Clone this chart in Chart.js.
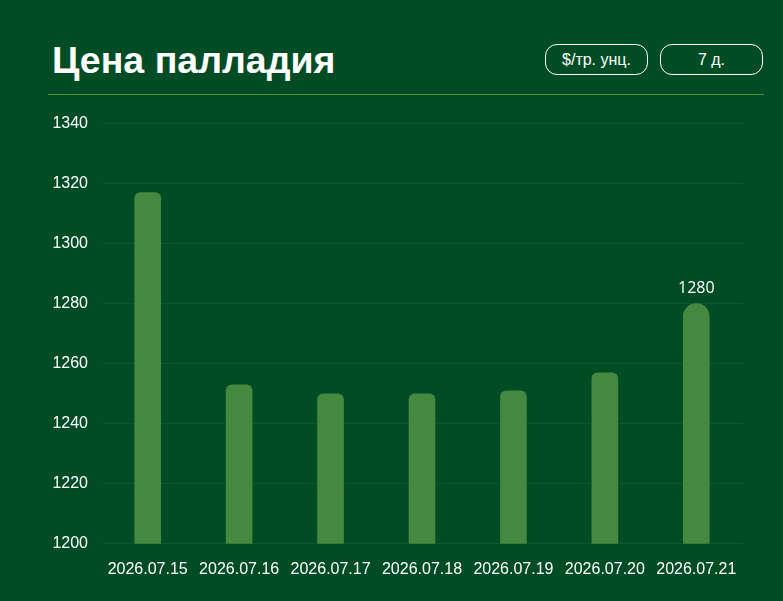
<!DOCTYPE html>
<html>
<head>
<meta charset="utf-8">
<script src="https://cdn.jsdelivr.net/npm/chart.js@4.4.1/dist/chart.umd.min.js"></script>
<style>
    html, body {
        margin: 0;
        padding: 0;
        width: 783px;
        height: 601px;
        overflow: hidden;
        background: #004d25;
        font-family: "Liberation Sans", Arial, sans-serif;
    }
    .title {
        position: absolute;
        left: 52px;
        top: 35px;
        color: #fff;
        font-weight: bold;
        font-size: 37.5px;
        line-height: 50px;
    }
    .btn {
        position: absolute;
        top: 44px;
        width: 101px;
        height: 29px;
        border: 1px solid #fff;
        border-radius: 12px;
        color: #fff;
        font-size: 16px;
        line-height: 29px;
        text-align: center;
    }
    .sep {
        position: absolute;
        left: 48px;
        top: 94px;
        width: 716px;
        height: 1px;
        background: #4e8f2f;
    }
    .chart-box {
        position: absolute;
        left: 0;
        top: 100px;
        width: 783px;
        height: 501px;
    }
</style>
</head>
<body>
<div class="title">Цена палладия</div>
<div class="btn" style="left:545px">$/тр. унц.</div>
<div class="btn" style="left:660px">7 д.</div>
<div class="sep"></div>
<div class="chart-box"><canvas id="palladiumChart"></canvas></div>

<script>
const dates = ['2026.07.15', '2026.07.16', '2026.07.17', '2026.07.18', '2026.07.19', '2026.07.20', '2026.07.21'];
const prices = [1317, 1253, 1250, 1250, 1251, 1257, 1280];
const yTicks = [1200, 1220, 1240, 1260, 1280, 1300, 1320, 1340];

// label above the last bar
const lastValueLabel = {
    id: 'lastValueLabel',
    afterDatasetsDraw(chart) {
        const meta = chart.getDatasetMeta(0);
        const i = prices.length - 1;
        const bar = meta.data[i];
        const ctx = chart.ctx;
        ctx.save();
        ctx.fillStyle = '#ffffff';
        ctx.font = '16px "Open Sans", sans-serif';
        ctx.textAlign = 'center';
        ctx.textBaseline = 'bottom';
        ctx.fillText(String(prices[i]), bar.x, bar.y - 7);
        ctx.restore();
    }
};

const ctx = document.getElementById('palladiumChart').getContext('2d');
new Chart(ctx, {
    type: 'bar',
    data: {
        labels: dates,
        datasets: [{
            data: prices,
            backgroundColor: '#458840',
            borderSkipped: false,
            borderRadius: c => c.dataIndex === prices.length - 1 ? 13 : 6,
            barThickness: 26
        }]
    },
    options: {
        responsive: true,
        maintainAspectRatio: false,
        animation: false,
        layout: {
            padding: { left: 52, right: 41, top: 14, bottom: 14 }
        },
        plugins: {
            legend: { display: false },
            tooltip: { enabled: false }
        },
        scales: {
            x: {
                grid: { display: false },
                border: { display: false },
                ticks: {
                    color: '#ffffff',
                    font: { family: '"Liberation Sans", Arial, sans-serif', size: 16 },
                    padding: 8,
                    maxRotation: 0
                }
            },
            y: {
                min: 1200,
                max: 1340,
                afterBuildTicks: scale => {
                    scale.ticks = yTicks.map(v => ({ value: v }));
                },
                afterFit: scale => {
                    scale.width = 50;
                },
                grid: {
                    color: 'rgba(255, 255, 255, 0.05)',
                    drawTicks: false
                },
                border: { display: false },
                ticks: {
                    color: '#ffffff',
                    font: { family: '"Liberation Sans", Arial, sans-serif', size: 16 },
                    padding: 14,
                    callback: v => String(v)
                }
            }
        }
    },
    plugins: [lastValueLabel]
});
</script>
</body>
</html>
